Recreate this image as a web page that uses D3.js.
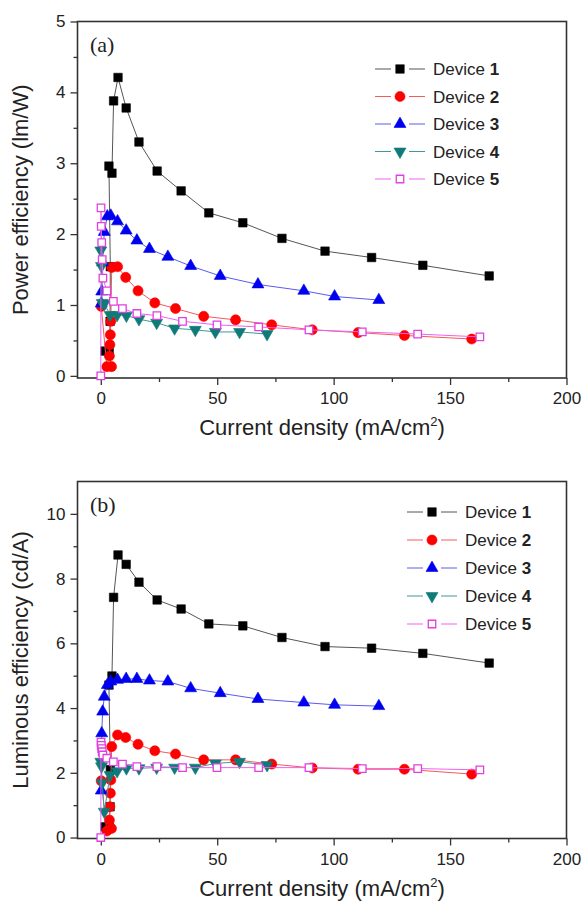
<!DOCTYPE html>
<html>
<head>
<meta charset="utf-8">
<script src="https://cdn.jsdelivr.net/npm/d3@7"></script>
<style>
  body { margin: 0; background: #fff; }
  svg { display: block; font-family: "Liberation Sans", Arial, sans-serif; }
</style>
</head>
<body>
<svg id="chart" width="583" height="904"></svg>
<script>
// current density (mA/cm2) per device
const current1 = [1.8, 3.6, 4.0, 4.1, 3.5, 4.8, 5.5, 7.4, 10.9, 16.4, 24.2, 34.5, 46.4, 61.0, 77.8, 96.3, 116.3, 138.3, 166.8];
const current2 = [0.2, 2.6, 4.6, 3.7, 3.9, 4.1, 4.3, 4.7, 7.2, 10.7, 16.0, 23.2, 32.1, 44.2, 57.9, 73.4, 90.8, 110.5, 130.4, 159.3];
const current3 = [0.2, 0.4, 0.8, 1.5, 2.8, 4.3, 7.2, 10.9, 15.5, 20.9, 28.8, 38.6, 51.3, 67.5, 87.2, 100.4, 119.4];
const current4 = [0.0, 0.3, 0.6, 1.5, 4.0, 7.0, 11.0, 16.4, 24.0, 31.7, 40.6, 49.2, 59.6, 71.4];
const current5 = [0.0, 0.1, 0.2, 0.4, 0.6, 0.9, 2.6, 5.4, 9.3, 15.5, 24.1, 35.1, 49.9, 67.8, 89.4, 112.3, 136.1, 162.8];

// power efficiency (lm/W)
const power1 = [0.35, 0.33, 0.77, 1.54, 2.96, 2.86, 3.88, 4.21, 3.78, 3.30, 2.89, 2.61, 2.30, 2.16, 1.94, 1.76, 1.67, 1.56, 1.41];
const power2 = [0.98, 0.13, 0.13, 0.28, 0.44, 0.58, 0.77, 1.53, 1.54, 1.39, 1.20, 1.03, 0.95, 0.84, 0.79, 0.72, 0.65, 0.61, 0.57, 0.52];
const power3 = [1.02, 1.19, 1.60, 2.03, 2.25, 2.26, 2.18, 2.05, 1.91, 1.79, 1.68, 1.55, 1.41, 1.29, 1.20, 1.12, 1.07];
const power4 = [1.77, 1.55, 1.03, 1.02, 0.86, 0.86, 0.85, 0.80, 0.75, 0.67, 0.65, 0.62, 0.62, 0.59];
const power5 = [0, 2.37, 2.11, 1.88, 1.64, 1.38, 1.20, 1.05, 0.95, 0.88, 0.85, 0.77, 0.72, 0.69, 0.65, 0.62, 0.59, 0.55];

// luminous efficiency (cd/A)
const lum1 = [0.33, 0.33, 0.95, 2.10, 4.71, 4.99, 7.42, 8.73, 8.44, 7.89, 7.34, 7.06, 6.60, 6.54, 6.18, 5.90, 5.85, 5.69, 5.39];
const lum2 = [1.75, 0.20, 0.28, 0.54, 0.95, 1.37, 1.78, 2.81, 3.17, 3.09, 2.88, 2.68, 2.58, 2.40, 2.40, 2.27, 2.15, 2.11, 2.11, 1.96];
const lum3 = [1.45, 3.22, 3.89, 4.35, 4.71, 4.82, 4.87, 4.90, 4.90, 4.85, 4.82, 4.61, 4.46, 4.28, 4.17, 4.10, 4.06];
const lum4 = [2.34, 2.20, 1.69, 0.80, 1.93, 2.05, 2.14, 2.14, 2.16, 2.16, 2.16, 2.29, 2.34, 2.24];
const lum5 = [0, 2.95, 2.85, 2.75, 2.65, 2.55, 2.45, 2.34, 2.27, 2.19, 2.19, 2.16, 2.16, 2.16, 2.16, 2.13, 2.13, 2.09];

const deviceNumbers = ["1", "2", "3", "4", "5"];
const xTicks = [0, 50, 100, 150, 200];
const powerTicks = [0, 1, 2, 3, 4, 5];
const lumTicks = [0, 2, 4, 6, 8, 10];

const currents = [current1, current2, current3, current4, current5];
const powers = [power1, power2, power3, power4, power5];
const lums = [lum1, lum2, lum3, lum4, lum5];

// marker / line styles
const styles = [
  { line: "#555", fill: "#000", stroke: "#000", shape: d3.symbolSquare, size: 72, rot: 0 },
  { line: "#f35a5a", fill: "#f00", stroke: "#f00", shape: d3.symbolCircle, size: 80, rot: 0 },
  { line: "#5a5af0", fill: "#0000f0", stroke: "#0000f0", shape: d3.symbolTriangle, size: 62, rot: 0 },
  { line: "#3f9a95", fill: "#107a78", stroke: "#107a78", shape: d3.symbolTriangle, size: 62, rot: 180 },
  { line: "#f060f0", fill: "#fff", stroke: "#e040e0", shape: d3.symbolSquare, size: 56, rot: 0 }
];

const svg = d3.select("#chart");
const left = 77.5, right = 566.5;
const x = d3.scaleLinear().domain([-10, 200]).range([left, right]);

const drawPanel = (cfg) => {
  const y = d3.scaleLinear().domain(cfg.domain).range([cfg.bottom, cfg.top]);
  const g = svg.append("g");

  // minor ticks
  g.append("g")
    .attr("transform", `translate(0,${cfg.bottom})`)
    .call(d3.axisBottom(x).tickValues([25, 75, 125, 175]).tickSize(4).tickFormat(""))
    .call((a) => a.select(".domain").remove());
  g.append("g")
    .attr("transform", `translate(${left},0)`)
    .call(d3.axisLeft(y).tickValues(cfg.minor).tickSize(4).tickFormat(""))
    .call((a) => a.select(".domain").remove());

  const xa = g.append("g")
    .attr("transform", `translate(0,${cfg.bottom})`)
    .call(d3.axisBottom(x).tickValues(xTicks).tickSize(7).tickSizeOuter(0).tickPadding(7).tickFormat(d3.format("d")));
  const ya = g.append("g")
    .attr("transform", `translate(${left},0)`)
    .call(d3.axisLeft(y).tickValues(cfg.ticks).tickSize(7).tickSizeOuter(0).tickPadding(5).tickFormat(d3.format("d")));
  [xa, ya].forEach((a) => {
    a.selectAll("text").style("font-size", "17px").attr("fill", "#222").style("font-family", "Liberation Sans, Arial");
    a.select(".domain").remove();
  });
  g.selectAll(".tick line").attr("stroke", "#333").attr("stroke-width", 1.3);

  // frame
  g.append("rect")
    .attr("x", left).attr("y", cfg.top)
    .attr("width", right - left).attr("height", cfg.bottom - cfg.top)
    .attr("fill", "none").attr("stroke", "#333").attr("stroke-width", 1.6);

  const line = d3.line().x((d) => x(d[0])).y((d) => y(d[1]));

  cfg.values.forEach((vals, i) => {
    const pts = currents[i].map((c, k) => [c, vals[k]]);
    const s = styles[i];
    g.append("path")
      .datum(pts)
      .attr("d", line)
      .attr("fill", "none")
      .attr("stroke", s.line)
      .attr("stroke-width", 1);
    g.selectAll(null)
      .data(pts)
      .enter()
      .append("path")
      .attr("d", d3.symbol().type(s.shape).size(s.size))
      .attr("transform", (d) => `translate(${x(d[0])},${y(d[1])}) rotate(${s.rot})`)
      .attr("fill", s.fill)
      .attr("stroke", s.stroke)
      .attr("stroke-width", i === 4 ? 1.3 : 0.6);
  });

  // legend: line - marker - line, then label
  deviceNumbers.forEach((n, i) => {
    const s = styles[i];
    const ly = cfg.legendY + i * cfg.legendGap;
    [[0, 16], [34, 50]].forEach(([a, b]) => {
      g.append("line")
        .attr("x1", cfg.legendX + a).attr("x2", cfg.legendX + b)
        .attr("y1", ly).attr("y2", ly)
        .attr("stroke", s.line).attr("stroke-width", 1);
    });
    g.append("path")
      .attr("d", d3.symbol().type(s.shape).size(s.size))
      .attr("transform", `translate(${cfg.legendX + 25},${ly}) rotate(${s.rot})`)
      .attr("fill", s.fill).attr("stroke", s.stroke)
      .attr("stroke-width", i === 4 ? 1.3 : 0.6);
    const t = g.append("text")
      .attr("x", cfg.legendX + 58).attr("y", ly + 6)
      .style("font-size", "17px").attr("fill", "#222");
    t.append("tspan").text("Device ");
    t.append("tspan").text(n).style("font-weight", "bold");
  });

  // panel tag
  g.append("text")
    .attr("x", 90).attr("y", cfg.top + 30)
    .style("font-family", "Liberation Serif, Times New Roman, serif")
    .style("font-size", "22px").attr("fill", "#222")
    .text(cfg.tag);

  // axis titles
  const xt = g.append("text")
    .attr("x", (left + right) / 2).attr("y", cfg.bottom + 57)
    .attr("text-anchor", "middle")
    .style("font-size", "22px").attr("fill", "#222");
  xt.append("tspan").text("Current density (mA/cm");
  xt.append("tspan").text("2").attr("dy", -9).style("font-size", "13px");
  xt.append("tspan").text(")").attr("dy", 9);

  g.append("text")
    .attr("transform", `translate(28,${(cfg.top + cfg.bottom) / 2}) rotate(-90)`)
    .attr("text-anchor", "middle")
    .style("font-size", "22px").attr("fill", "#222")
    .text(cfg.yTitle);
};

drawPanel({
  top: 21.5, bottom: 378, domain: [-0.03, 5],
  ticks: powerTicks, minor: [0.5, 1.5, 2.5, 3.5, 4.5],
  values: powers, tag: "(a)", yTitle: "Power efficiency (lm/W)",
  legendX: 375, legendY: 69, legendGap: 27.5
});

drawPanel({
  top: 481.5, bottom: 838.5, domain: [-0.03, 11],
  ticks: lumTicks, minor: [1, 3, 5, 7, 9],
  values: lums, tag: "(b)", yTitle: "Luminous efficiency (cd/A)",
  legendX: 407, legendY: 512, legendGap: 28
});
</script>
</body>
</html>
